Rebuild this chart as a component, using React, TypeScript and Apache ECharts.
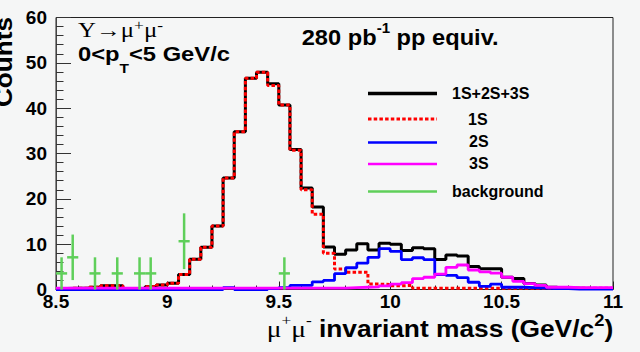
import React, { useEffect, useRef } from "react";
import * as echarts from "echarts";

// Histogram binning (50 bins of 0.05 GeV/c^2 from 8.5 to 11)
const BIN_LOW = 8.5;
const BIN_WIDTH = 0.05;

// Counts per bin
const sumAll = [
  0.2, 0.3, 0.3, 0.5, 0.8, 0.8, 0.2, 0.1, 0.6, 1.0,
  1.4, 3.3, 6.7, 9.3, 14.0, 24.6, 34.8, 46.6, 47.9, 45.4,
  40.7, 30.9, 22.4, 18.2, 9.4, 7.8, 8.7, 10.1, 8.7, 10.2,
  10.0, 8.6, 9.2, 9.0, 6.6, 7.6, 7.4, 5.1, 4.6, 4.6,
  2.7, 2.4, 1.3, 1.0, 0.5, 0.3, 0.3, 0.2, 0.2, 0.2,
];
const upsilon1S = [
  0.2, 0.3, 0.3, 0.5, 0.8, 0.8, 0.2, 0.1, 0.6, 1.0,
  1.4, 3.3, 6.7, 9.3, 14.0, 24.6, 34.8, 46.6, 47.9, 45.0,
  40.7, 30.7, 22.0, 16.6, 8.0, 4.5, 3.8, 3.8, 1.2, 1.1,
  0.8, 0.9, 0.3, 0.3, 0.3, 0.3, 0.3, 0.3, 0.3, 0.3,
  0.3, 0.3, 0.3, 0.3, 0.3, 0.3, 0.3, 0.3, 0.3, 0.3,
];
const upsilon2S = [
  0, 0, 0, 0, 0, 0, 0, 0, 0, 0,
  0, 0, 0, 0, 0, 0.4, 0, 0, 0, 0.2,
  0.4, 0.9, 0.9, 1.7, 2.0, 3.5, 4.8, 5.8, 7.1, 9.0,
  8.4, 6.6, 7.0, 6.6, 3.3, 3.1, 2.6, 1.6, 0.7, 1.2,
  0.5, 0.5, 0.4, 0.3, 0.2, 0.2, 0.1, 0.1, 0.1, 0.1,
];
const upsilon3S = [
  0.3, 0.3, 0.3, 0.3, 0.3, 0.3, 0.3, 0.3, 0.3, 0.3,
  0.3, 0.3, 0.3, 0.3, 0.3, 0.3, 0.3, 0.3, 0.3, 0.3,
  0.3, 0.3, 0.3, 0.3, 0.3, 0.3, 0.4, 0.5, 0.6, 0.8,
  1.2, 1.5, 2.4, 2.7, 3.4, 4.9, 5.4, 4.3, 3.9, 3.6,
  2.7, 1.8, 1.3, 0.9, 0.5, 0.5, 0.4, 0.4, 0.4, 0.4,
];

// Background points (bin centre, scaled counts, error)
const bgMass = [8.525, 8.575, 8.675, 8.775, 8.875, 8.925, 9.075, 9.525];
const bgCounts = [3.55, 7.1, 3.55, 3.55, 3.55, 3.55, 10.65, 3.55];
const bgErrors = [3.55, 5.02, 3.55, 3.55, 3.55, 3.55, 6.15, 3.55];

const legendLabels = ["1S+2S+3S", "1S", "2S", "3S", "background"];

const SANS = '"Liberation Sans", Arial, Helvetica, sans-serif';
const SERIF = '"Liberation Serif", "Times New Roman", serif';
const BG = "#f5f6f6";
const GREEN = "#5fcf5a";

function toSteps(vals: number[]) {
  const pts = vals.map((v, i) => [+(BIN_LOW + i * BIN_WIDTH).toFixed(3), v]);
  pts.push([+(BIN_LOW + vals.length * BIN_WIDTH).toFixed(3), vals[vals.length - 1]]);
  return pts;
}

let mctx: CanvasRenderingContext2D | null = null;
function textWidth(t: string, font: string) {
  if (!mctx) mctx = document.createElement("canvas").getContext("2d");
  mctx!.font = font;
  return mctx!.measureText(t).width;
}

type Frag = { t: string; size: number; bold?: boolean; serif?: boolean; dy?: number };

function fragText(
  frags: Frag[],
  x: number,
  y: number,
  targetWidth: number,
  rotation = 0,
  alignRight = false
) {
  let cx = 0;
  const items: any[] = frags.map((f) => {
    const family = f.serif ? SERIF : SANS;
    const weight = f.bold ? "bold" : "normal";
    const w = textWidth(f.t, `${weight} ${f.size}px ${family}`);
    const central = (f.serif ? 0.3375 : 0.3465) * f.size;
    const el = {
      type: "text",
      x: cx,
      y: (f.dy || 0) - central,
      style: {
        text: f.t,
        fontSize: f.size,
        fontWeight: weight,
        fontFamily: family,
        fill: "#000",
        align: "left",
        verticalAlign: "middle",
      },
    };
    cx += w;
    return el;
  });
  const total = cx;
  if (alignRight) items.forEach((it) => (it.x -= total));
  return {
    type: "group",
    x,
    y,
    rotation,
    scaleX: targetWidth / total,
    silent: true,
    children: items,
  };
}

export default function App() {
  const ref = useRef<HTMLDivElement>(null);

  useEffect(() => {
    if (!ref.current) return;
    const chart = echarts.init(ref.current, null, { renderer: "svg" });

    const legendRows = [
      { y: 93.5, color: "#000", width: 3.5, dash: null as any, lx: 452, ly: 93.5 },
      { y: 119, color: "#ff0000", width: 3, dash: [3.5, 2.2], lx: 468, ly: 119.5 },
      { y: 142.5, color: "#0000ff", width: 2.5, dash: null, lx: 469, ly: 141.5 },
      { y: 164, color: "#ff00ff", width: 2.5, dash: null, lx: 469, ly: 163.5 },
      { y: 191.5, color: GREEN, width: 2.5, dash: null, lx: 452, ly: 191.5 },
    ];

    const legendGraphics: any[] = [];
    legendRows.forEach((r, i) => {
      legendGraphics.push({
        type: "line",
        silent: true,
        shape: { x1: 368, y1: r.y, x2: 437, y2: r.y },
        style: { stroke: r.color, lineWidth: r.width, lineDash: r.dash || undefined },
      });
      legendGraphics.push({
        type: "text",
        silent: true,
        x: r.lx,
        y: r.ly,
        style: {
          text: legendLabels[i],
          fontSize: 16,
          fontWeight: "bold",
          fontFamily: SANS,
          fill: "#000",
          align: "left",
          verticalAlign: "middle",
        },
      });
    });

    const option: any = {
      animation: false,
      backgroundColor: BG,
      grid: {
        left: 56,
        right: 27,
        top: 17.5,
        bottom: 62.5,
        show: true,
        borderColor: "#222",
        borderWidth: 1,
        backgroundColor: "transparent",
      },
      xAxis: {
        type: "value",
        min: 8.5,
        max: 11,
        interval: 0.5,
        axisLine: { show: true, onZero: false, lineStyle: { color: "#222", width: 1 } },
        axisTick: { show: true, inside: true, length: 8, lineStyle: { color: "#222", width: 1 } },
        minorTick: { show: true, splitNumber: 5, length: 4, lineStyle: { color: "#222", width: 1 } },
        splitLine: { show: false },
        axisLabel: {
          show: true,
          margin: 2,
          fontSize: 19,
          fontWeight: "bold",
          fontFamily: SANS,
          color: "#000",
          showMinLabel: true,
          showMaxLabel: true,
        },
      },
      yAxis: {
        type: "value",
        min: 0,
        max: 60,
        interval: 10,
        axisLine: { show: true, lineStyle: { color: "#444", width: 1 } },
        axisTick: { show: true, inside: true, length: 15, lineStyle: { color: "#333", width: 1 } },
        minorTick: { show: true, splitNumber: 5, length: 7.5, lineStyle: { color: "#333", width: 1 } },
        splitLine: { show: false },
        axisLabel: {
          show: true,
          margin: 9,
          fontSize: 19,
          fontWeight: "bold",
          fontFamily: SANS,
          color: "#000",
        },
      },
      series: [
        {
          name: "1S+2S+3S",
          type: "line",
          step: "end",
          data: toSteps(sumAll),
          symbol: "none",
          lineStyle: { color: "#000", width: 3 },
          itemStyle: { color: "#000" },
          z: 2,
        },
        {
          name: "1S",
          type: "line",
          step: "end",
          data: toSteps(upsilon1S),
          symbol: "none",
          lineStyle: { color: "#ff0000", width: 3, type: [3.5, 2.2], cap: "butt" },
          itemStyle: { color: "#ff0000" },
          z: 3,
        },
        {
          name: "2S",
          type: "line",
          step: "end",
          data: toSteps(upsilon2S),
          symbol: "none",
          lineStyle: { color: "#0000ff", width: 2.8 },
          itemStyle: { color: "#0000ff" },
          z: 4,
        },
        {
          name: "3S",
          type: "line",
          step: "end",
          data: toSteps(upsilon3S),
          symbol: "none",
          lineStyle: { color: "#ff00ff", width: 2.8 },
          itemStyle: { color: "#ff00ff" },
          z: 5,
        },
        {
          name: "background",
          type: "custom",
          data: bgMass.map((m, i) => [m, bgCounts[i], bgErrors[i]]),
          encode: { x: 0, y: 1 },
          z: 6,
          renderItem: (params: any, api: any) => {
            const x = api.value(0);
            const y = api.value(1);
            const e = api.value(2);
            const top = api.coord([x, y + e]);
            const bot = api.coord([x, Math.max(0, y - e)]);
            const l = api.coord([x - BIN_WIDTH / 2, y]);
            const r = api.coord([x + BIN_WIDTH / 2, y]);
            const style = { stroke: GREEN, lineWidth: 2.5 };
            return {
              type: "group",
              children: [
                { type: "line", shape: { x1: top[0], y1: top[1], x2: bot[0], y2: bot[1] }, style },
                { type: "line", shape: { x1: l[0], y1: l[1], x2: r[0], y2: r[1] }, style },
              ],
            };
          },
        },
      ],
      graphic: [
        fragText(
          [
            { t: "Υ→μ", size: 20, serif: true },
            { t: "+", size: 14, serif: true, dy: -7 },
            { t: "μ", size: 20, serif: true },
            { t: "-", size: 14, serif: true, dy: -7 },
          ],
          78,
          36.7,
          85
        ),
        fragText(
          [
            { t: "0<p", size: 20, bold: true },
            { t: "T", size: 13, bold: true, dy: 11.7 },
            { t: "<5 GeV/c", size: 20, bold: true },
          ],
          78,
          61,
          152
        ),
        fragText(
          [
            { t: "280 pb", size: 22, bold: true },
            { t: "-1", size: 14, bold: true, dy: -11.7 },
            { t: " pp equiv.", size: 22, bold: true },
          ],
          301.7,
          45,
          197
        ),
        fragText(
          [
            { t: "μ", size: 24, serif: true },
            { t: "+", size: 15, serif: true, dy: -12 },
            { t: "μ", size: 24, serif: true },
            { t: "-", size: 15, serif: true, dy: -12 },
            { t: " invariant mass (GeV/c", size: 23, bold: true },
            { t: "2", size: 16, bold: true, dy: -11 },
            { t: ")", size: 23, bold: true },
          ],
          266.7,
          336.7,
          346.6
        ),
        fragText([{ t: "Counts", size: 23, bold: true }], 12, 17, 90, Math.PI / 2, true),
        ...legendGraphics,
      ],
    };

    chart.setOption(option);
    return () => chart.dispose();
  }, []);

  return (
    <div
      ref={ref}
      style={{
        position: "fixed",
        left: 0,
        top: 0,
        width: 640,
        height: 352,
        background: BG,
      }}
    />
  );
}
